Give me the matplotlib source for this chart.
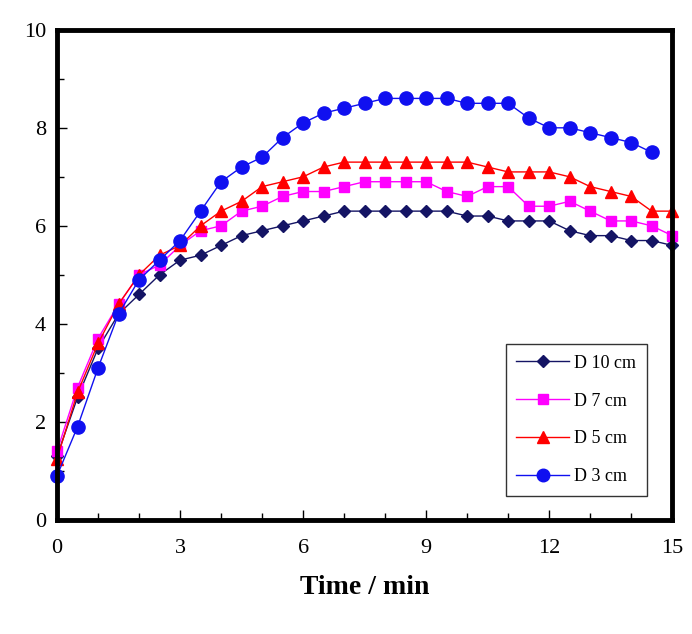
import numpy as np
import matplotlib
matplotlib.use('Agg')
import matplotlib.pyplot as plt
from matplotlib.ticker import MultipleLocator

plt.rcParams['font.family'] = ['Liberation Serif', 'DejaVu Serif']

# time in minutes, every half minute
time = np.arange(0, 15.01, 0.5)

d10 = [1.3, 2.5, 3.5, 4.2, 4.6, 5.0, 5.3, 5.4, 5.6, 5.8, 5.9, 6.0, 6.1, 6.2, 6.3, 6.3,
       6.3, 6.3, 6.3, 6.3, 6.2, 6.2, 6.1, 6.1, 6.1, 5.9, 5.8, 5.8, 5.7, 5.7, 5.6]
d7 = [1.4, 2.7, 3.7, 4.4, 5.0, 5.2, 5.6, 5.9, 6.0, 6.3, 6.4, 6.6, 6.7, 6.7, 6.8, 6.9,
      6.9, 6.9, 6.9, 6.7, 6.6, 6.8, 6.8, 6.4, 6.4, 6.5, 6.3, 6.1, 6.1, 6.0, 5.8]
d5 = [1.25, 2.6, 3.6, 4.4, 5.0, 5.4, 5.6, 6.0, 6.3, 6.5, 6.8, 6.9, 7.0, 7.2, 7.3, 7.3,
      7.3, 7.3, 7.3, 7.3, 7.3, 7.2, 7.1, 7.1, 7.1, 7.0, 6.8, 6.7, 6.6, 6.3, 6.3]
# D 3 cm stops at 14.5 min
d3 = [0.9, 1.9, 3.1, 4.2, 4.9, 5.3, 5.7, 6.3, 6.9, 7.2, 7.4, 7.8, 8.1, 8.3, 8.4, 8.5,
      8.6, 8.6, 8.6, 8.6, 8.5, 8.5, 8.5, 8.2, 8.0, 8.0, 7.9, 7.8, 7.7, 7.5]

labels = ['D 10 cm', 'D 7 cm', 'D 5 cm', 'D 3 cm']

fig = plt.figure(figsize=(6.92, 6.34), dpi=100)
ax = fig.add_axes([0.0824, 0.180, 0.889, 0.773])

ax.plot(time, d10, color='#141464', marker='D', markersize=6, lw=1, label=labels[0], clip_on=False, zorder=3)
ax.plot(time, d7, color='#ff00ff', marker='s', markersize=7.5, lw=1, label=labels[1], clip_on=False, zorder=3)
ax.plot(time, d5, color='#ff0000', marker='^', markersize=9, lw=1, label=labels[2], clip_on=False, zorder=3)
ax.plot(time[:len(d3)], d3, color='#1010f0', marker='o', markersize=9.5, lw=1, label=labels[3], clip_on=False, zorder=3)

ax.set_xlim(0, 15)
ax.set_ylim(0, 10)
ax.xaxis.set_major_locator(MultipleLocator(3))
ax.xaxis.set_minor_locator(MultipleLocator(1))
ax.yaxis.set_major_locator(MultipleLocator(2))
ax.yaxis.set_minor_locator(MultipleLocator(1))
ax.tick_params(which='both', direction='in', width=1, labelsize=16)
ax.tick_params(which='major', length=7)
ax.tick_params(which='minor', length=5)
ax.tick_params(axis='x', pad=14)
ax.tick_params(axis='y', pad=8)
for sp in ax.spines.values():
    sp.set_linewidth(3.5)
    sp.set_zorder(4)

ax.set_xlabel('Time / min', fontsize=20, fontweight='bold', labelpad=12)

leg = ax.legend(loc='lower right', bbox_to_anchor=(0.959, 0.049), fontsize=13,
                frameon=True, fancybox=False, edgecolor='black',
                labelspacing=1.15, handlelength=2.9, borderpad=0.6,
                markerscale=0.95, handletextpad=0.3, borderaxespad=0)
leg.get_frame().set_linewidth(1)

fig.savefig('out.png', dpi=100)
